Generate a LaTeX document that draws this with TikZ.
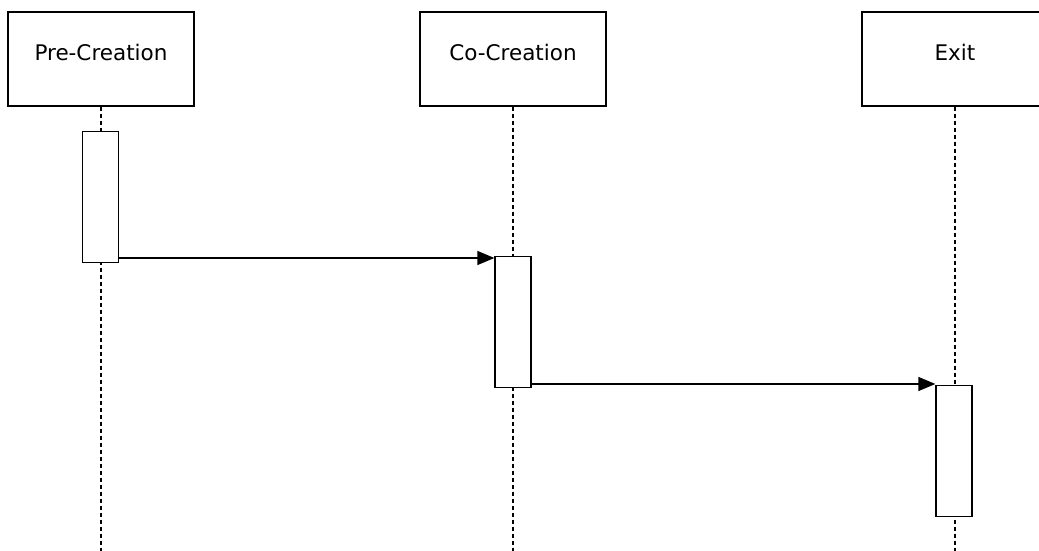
\documentclass[tikz,border=0pt]{standalone}
\usepackage{fontspec}
\setmainfont{DejaVu Sans}
\usetikzlibrary{arrows.meta,positioning}

\begin{document}
\begin{tikzpicture}
			[x=1pt,y=-1pt,
			header/.style={draw,line width=1.3pt,minimum width=186pt,inner sep=0pt,
				text height=48pt,text depth=46pt,font=\fontsize{21.5}{25}\selectfont},
			activation/.style={draw,fill=white,line width=1.3pt,minimum width=36pt,minimum height=131pt,inner sep=0pt},
			lifeline/.style={line width=1.1pt,dash pattern=on 4pt off 3pt},
			msg/.style={line width=1.3pt,-{Triangle[length=17pt,width=14pt]}}]

			\useasboundingbox (0,0) rectangle (1039,551);

			% heads of the three phases
			\node [header,anchor=base](pre)  at (101,60)  {Pre-Creation};
			\node [header,anchor=base](co)   at (513,60)  {Co-Creation};
			\node [header,anchor=base](exit) at (955,60)  {Exit};

			% lifelines run down to the bottom edge
			\coordinate (preend)  at (101,551);
			\coordinate (coend)   at (513,551);
			\coordinate (exitend) at (955,551);
			\draw [lifeline] (pre.south)  -- (preend);
			\draw [lifeline] (co.south)   -- (coend);
			\draw [lifeline] (exit.south) -- (exitend);

			% activation bars
			\node [activation,anchor=north](preact)  at (100.5,130.5) {};
			\node [activation,anchor=north](coact)   at (513,255.5)   {};
			\node [activation,anchor=north](exitact) at (954,384.5)   {};

			% messages
			\coordinate (m1) at (0,258);
			\coordinate (m2) at (0,384);
			\draw [msg] (preact.east |- m1) -- (coact.west |- m1);
			\draw [msg] (coact.east |- m2)  -- (exitact.west |- m2);
			%\draw [msg] (exitact.west) -- (coact.east);
\end{tikzpicture}
\end{document}
